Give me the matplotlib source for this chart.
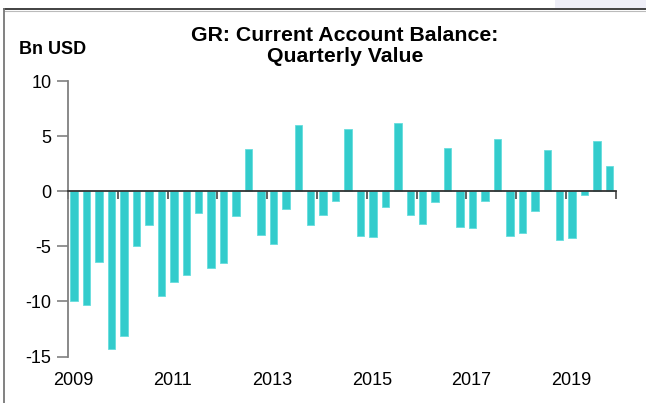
import matplotlib
matplotlib.use("Agg")
import matplotlib.pyplot as plt
import matplotlib.transforms as mtransforms
from matplotlib.lines import Line2D
from matplotlib.patches import Rectangle
import numpy as np

plt.rcParams['font.family'] = ['Liberation Sans', 'DejaVu Sans']

title = "GR: Current Account Balance:\nQuarterly Value"
unit_label = "Bn USD"
years = list(range(2009, 2020))
year_labels = ["2009", "2011", "2013", "2015", "2017", "2019"]
values = [
    -10.0, -10.3, -6.45, -14.3,   # 2009
    -13.15, -5.0, -3.05, -9.5,    # 2010
    -8.2, -7.6, -1.95, -7.0,      # 2011
    -6.5, -2.25, 3.8, -4.0,       # 2012
    -4.8, -1.65, 6.0, -3.1,       # 2013
    -2.2, -0.92, 5.6, -4.1,       # 2014
    -4.15, -1.4, 6.2, -2.2,       # 2015
    -3.0, -0.95, 3.95, -3.25,     # 2016
    -3.3, -0.88, 4.7, -4.1,       # 2017
    -3.8, -1.8, 3.7, -4.45,       # 2018
    -4.25, -0.35, 4.55, 2.27,     # 2019
]
yticks = [-15, -10, -5, 0, 5, 10]

W, H = 646, 403
fig = plt.figure(figsize=(W / 100, H / 100), dpi=100)

left, right = 68 / W, 615.7 / W
bottom, top = (H - 356.5) / H, (H - 81) / H
ax = fig.add_axes([left, bottom, right - left, top - bottom])

x = np.array([years[0] + (i + 0.5) / 4 for i in range(len(values))])
ax.bar(x, values, width=0.6 / 4, color='#33CCCC', edgecolor='#66DDDD', linewidth=0.6, zorder=2)

ax.set_xlim(years[0], years[-1] + 1)
ax.set_ylim(-15, 10)

# spines
for s in ['top', 'right']:
    ax.spines[s].set_visible(False)
ax.spines['left'].set_color('#808080')
ax.spines['left'].set_linewidth(1.3)
ax.spines['bottom'].set_position(('data', 0))
ax.spines['bottom'].set_color('#333333')
ax.spines['bottom'].set_linewidth(1.3)
ax.spines['bottom'].set_zorder(3)

ax.set_yticks(yticks)
ax.set_yticklabels([str(v) for v in yticks], fontsize=13)
ax.tick_params(axis='y', direction='out', length=8, width=1.2, color='#808080', pad=4)

ax.set_xticks(years + [years[-1] + 1])
ax.set_xticklabels([])
ax.tick_params(axis='x', direction='out', length=6, width=1.3, color='#555555')

trans = mtransforms.blended_transform_factory(ax.transData, ax.transAxes)
for lab in year_labels:
    ax.text(int(lab) + 0.1, -0.086, lab, transform=trans, ha='center', va='center', fontsize=13)

fig.text(345 / W, 1 - 46 / H, title, ha='center', va='center', fontsize=15.3,
         fontweight='bold', linespacing=1.15)
fig.text(19 / W, 1 - 49 / H, unit_label, ha='left', va='center', fontsize=13, fontweight='bold')

# frame decorations
fig.patches.append(Rectangle((555 / W, 1 - 8 / H), (W - 555) / W, 8 / H, transform=fig.transFigure,
                             facecolor='#EEEEF7', edgecolor='none', zorder=0))
fig.lines.append(Line2D([3.5 / W, 1], [1 - 9 / H, 1 - 9 / H], transform=fig.transFigure,
                        color='#333333', linewidth=1.3))
fig.lines.append(Line2D([3.5 / W, 1], [1 - 10.5 / H, 1 - 10.5 / H], transform=fig.transFigure,
                        color='#BBBBBB', linewidth=0.8))
fig.lines.append(Line2D([3.5 / W, 3.5 / W], [0, 1 - 9 / H], transform=fig.transFigure,
                        color='#777777', linewidth=1.3))

fig.savefig("out.png", dpi=100)
